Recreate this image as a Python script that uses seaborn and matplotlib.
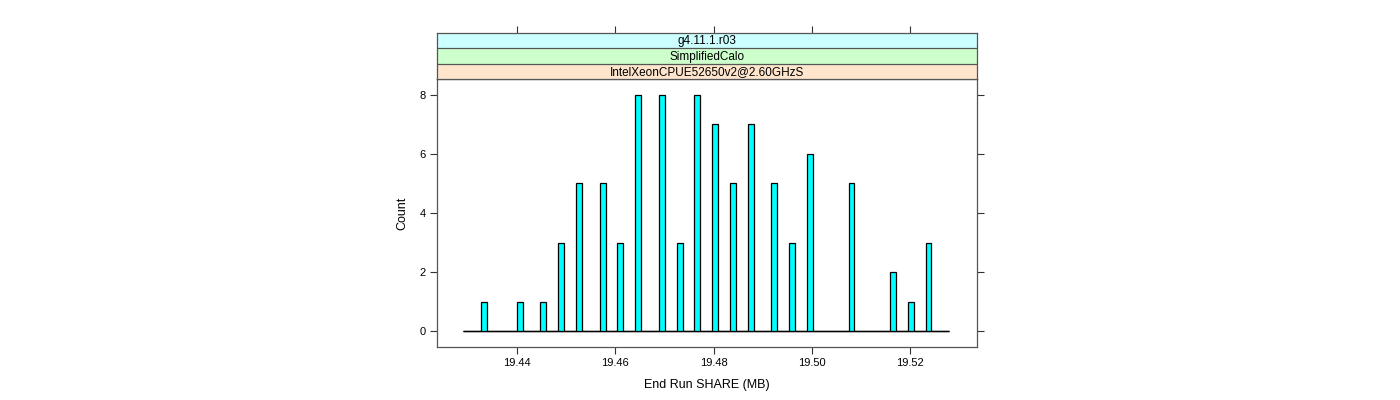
import numpy as np
import pandas as pd
import seaborn as sns
import matplotlib
matplotlib.use("Agg")
import matplotlib.pyplot as plt

sns.set_style("white")
plt.rcParams['font.family'] = ['Liberation Sans', 'DejaVu Sans']
plt.rcParams['text.color'] = 'black'
plt.rcParams['axes.labelcolor'] = 'black'

# histogram bars (bin centre in MB, count)
share_mb = [19.43328, 19.44052, 19.44534, 19.44896, 19.45258, 19.45740, 19.46102,
            19.46464, 19.46946, 19.47308, 19.47670, 19.48031, 19.48393, 19.48755,
            19.49237, 19.49599, 19.49961, 19.50805, 19.51650, 19.52011, 19.52373]
counts = [1, 1, 1, 3, 5, 5, 3, 8, 8, 3, 8, 7, 5, 7, 5, 3, 6, 5, 2, 1, 3]
strips = ["g4.11.1.r03", "SimplifiedCalo", "IntelXeonCPUE52650v2@2.60GHzS"]
strip_colors = ["#ccffff", "#ccffcc", "#ffe5cc"]
xticks = [19.44, 19.46, 19.48, 19.50, 19.52]
yticks = [0, 2, 4, 6, 8]

# histogram bins (82 bins, same as the panel)
bin_start, bin_width, n_bins = 19.42906, 0.001206, 82
edges = list(bin_start + bin_width * np.arange(n_bins + 1))

df = pd.DataFrame({"share": share_mb, "count": counts})

fig = plt.figure(figsize=(14, 4), dpi=100)
left, width = 437 / 1400, 540 / 1400
ax = fig.add_axes([left, 53 / 400, width, 268 / 400])

# zero-count bins show as a flat line, as in lattice
ax.hlines(0, edges[0], edges[-1], color="black", lw=1.0, zorder=1)
sns.histplot(data=df, x="share", weights="count", bins=edges, ax=ax,
             color="#00ffff", alpha=1, edgecolor="black", linewidth=0.9, zorder=2)

xlim = (19.4237, 19.5336)
ax.set_xlim(*xlim)
ax.set_ylim(-0.54, 8.54)
ax.set_xticks(xticks)
ax.set_xticklabels(["%.2f" % t for t in xticks])
ax.set_yticks(yticks)
ax.tick_params(direction="out", length=5, width=0.8, colors="#333333",
               labelcolor="black", labelsize=8, right=True, left=True,
               bottom=True, top=False, pad=3)
for s in ax.spines.values():
    s.set_color("#555555")
    s.set_linewidth(0.9)
ax.set_xlabel("End Run SHARE (MB)", fontsize=9, labelpad=8)
ax.set_ylabel("Count", fontsize=9, labelpad=8)

# lattice-style strips on top
sax = fig.add_axes([left, 321 / 400, width, 46 / 400])
sax.set_xlim(*xlim)
sax.set_ylim(0, 3)
for i, (lab, col) in enumerate(zip(reversed(strips), reversed(strip_colors))):
    sax.axhspan(i, i + 1, color=col, zorder=0)
    sax.text(sum(xlim) / 2, i + 0.45, lab, ha="center", va="center", fontsize=8.5)
for y in (1, 2):
    sax.axhline(y, color="#555555", lw=0.9)
sax.set_xticks(xticks)
sax.set_yticks([])
sax.tick_params(axis="x", direction="out", length=5, width=0.8, colors="#333333",
                top=True, bottom=False, labeltop=False, labelbottom=False)
for s in sax.spines.values():
    s.set_color("#555555")
    s.set_linewidth(0.9)

fig.savefig("out.png", dpi=100)
